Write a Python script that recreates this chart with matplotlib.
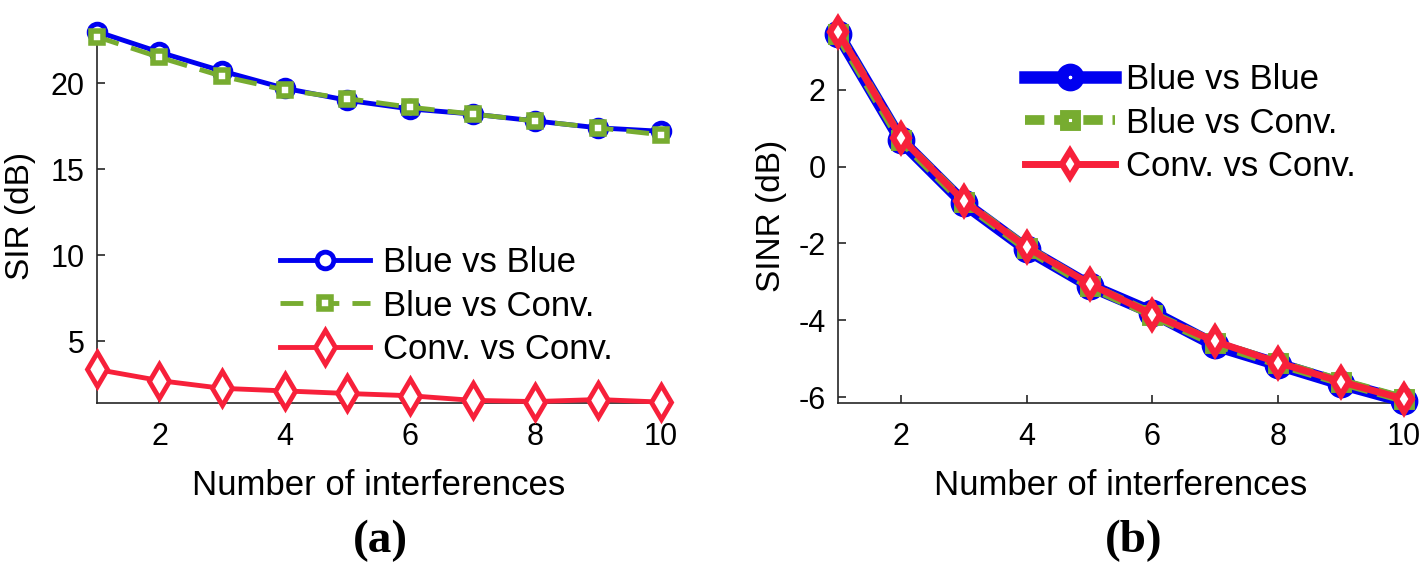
import matplotlib.pyplot as plt

plt.rcParams['font.family'] = ['Liberation Sans', 'DejaVu Sans']
plt.rcParams['axes.unicode_minus'] = False

n_interf = [1, 2, 3, 4, 5, 6, 7, 8, 9, 10]

# (a) SIR
sir_bb = [23.0, 21.8, 20.7, 19.7, 19.0, 18.5, 18.2, 17.8, 17.4, 17.2]
sir_bc = [22.7, 21.5, 20.4, 19.6, 19.1, 18.6, 18.2, 17.8, 17.4, 17.0]
sir_cc = [3.35, 2.7, 2.25, 2.1, 1.95, 1.82, 1.55, 1.48, 1.6, 1.45]

# (b) SINR
sinr_bb = [3.45, 0.68, -0.95, -2.15, -3.1, -3.8, -4.65, -5.15, -5.65, -6.1]
sinr_bc = [3.45, 0.7, -0.92, -2.12, -3.1, -3.85, -4.6, -5.12, -5.6, -6.05]
sinr_cc = [3.5, 0.75, -0.9, -2.1, -3.05, -3.85, -4.55, -5.1, -5.6, -6.05]

labels = ['Blue vs Blue', 'Blue vs Conv.', 'Conv. vs Conv.']
blue = '#0000F0'
green = '#77AC30'
red = '#F7203A'
axcol = '#262626'

fig = plt.figure(figsize=(14.24, 5.62), dpi=100)
ax1 = fig.add_axes([0.068, 0.283, 0.396, 0.667])
ax2 = fig.add_axes([0.5885, 0.283, 0.3975, 0.667])

# panel (a)
ax1.plot(n_interf, sir_bb, '-o', color=blue, lw=3.5, ms=12, mew=3.5, mfc='white', clip_on=False, label=labels[0])
ax1.plot(n_interf, sir_bc, '--s', color=green, lw=3.5, ms=8, mew=4, mfc='white', dashes=(4.7, 2.7),
         clip_on=False, label=labels[1])
ax1.plot(n_interf, sir_cc, '-d', color=red, lw=3.5, ms=17, mew=3.5, mfc='white', clip_on=False, label=labels[2])
ax1.set_xlim(1, 10)
ax1.set_ylim(1.4, 23.2)
ax1.set_yticks([5, 10, 15, 20])
ax1.set_ylabel('SIR (dB)', fontsize=24, labelpad=10)
ax1.legend(loc='center left', bbox_to_anchor=(0.1966, 0.4555), bbox_transform=fig.transFigure,
           frameon=False, fontsize=25, handlelength=2.6, handletextpad=0.37, labelspacing=0.3,
           borderaxespad=0, borderpad=0)

# panel (b)
ax2.plot(n_interf, sinr_bb, '-o', color=blue, lw=9, ms=11.5, mew=8.5, mfc='white', clip_on=False, label=labels[0])
ax2.plot(n_interf, sinr_bc, '--s', color=green, lw=7, ms=8, mew=6.4, mfc='white', dashes=(2, 1),
         clip_on=False, label=labels[1])
ax2.plot(n_interf, sinr_cc, '-d', color=red, lw=5, ms=13, mew=4.5, mfc='white', clip_on=False, label=labels[2])
ax2.set_xlim(1, 10)
ax2.set_ylim(-6.15, 3.6)
ax2.set_yticks([-6, -4, -2, 0, 2])
ax2.set_ylabel('SINR (dB)', fontsize=24, labelpad=8)
ax2.legend(loc='center left', bbox_to_anchor=(0.7198, 0.781), bbox_transform=fig.transFigure,
           frameon=False, fontsize=25, handlelength=2.6, handletextpad=0.3, labelspacing=0.3,
           borderaxespad=0, borderpad=0)

for ax in (ax1, ax2):
    ax.set_xticks([2, 4, 6, 8, 10])
    ax.set_xlabel('Number of interferences', fontsize=25, labelpad=12)
    ax.spines['top'].set_visible(False)
    ax.spines['right'].set_visible(False)
    for side in ('left', 'bottom'):
        ax.spines[side].set_linewidth(1.2)
        ax.spines[side].set_color(axcol)
        ax.spines[side].set_zorder(0)
    ax.tick_params(direction='in', length=6, width=1.2, labelsize=22, colors=axcol, labelcolor='black')
    ax.tick_params(axis='x', pad=14)
    ax.tick_params(axis='y', pad=9)

fig.text(0.267, 0.037, '(a)', fontsize=34, fontweight='bold', family='Liberation Serif', ha='center', va='center')
fig.text(0.796, 0.037, '(b)', fontsize=34, fontweight='bold', family='Liberation Serif', ha='center', va='center')

fig.savefig('out.png', dpi=100)
